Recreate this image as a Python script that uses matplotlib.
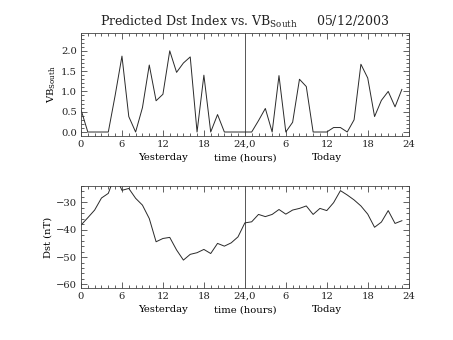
import numpy as np
import matplotlib
matplotlib.use("Agg")
import matplotlib.pyplot as plt
from matplotlib.ticker import MultipleLocator, FormatStrFormatter

plt.rcParams['font.family'] = ['DejaVu Serif']
plt.rcParams['mathtext.fontset'] = 'dejavuserif'

hours = list(range(48))
vb_yesterday = [0.55, 0, 0, 0, 0, 0.9, 1.87, 0.38, 0, 0.6, 1.65, 0.77, 0.93, 2.0,
                1.47, 1.7, 1.85, 0, 1.4, 0, 0.43, 0, 0, 0]
vb_today = [0, 0, 0.28, 0.58, 0, 1.39, 0, 0.24, 1.3, 1.12, 0, 0, 0, 0.11, 0.11, 0,
            0.3, 1.67, 1.33, 0.38, 0.78, 1.0, 0.62, 1.05]
dst_yesterday = [-38.3, -35.6, -32.8, -28.4, -26.7, -20.0, -25.6, -24.9, -28.5, -31.0,
                 -35.9, -44.4, -43.2, -42.8, -47.4, -51.1, -49.0, -48.4, -47.2, -48.7,
                 -45.0, -46.0, -44.8, -42.6]
dst_today = [-37.5, -37.1, -34.4, -35.2, -34.4, -32.6, -34.3, -32.8, -32.2, -31.3,
             -34.4, -32.2, -33.0, -30.1, -25.7, -27.3, -29.1, -31.3, -34.3, -39.1,
             -37.2, -33.0, -37.7, -36.7]
xtick_pos = [0, 6, 12, 18, 24, 30, 36, 42, 48]
xtick_labels = ['0', '6', '12', '18', '24,0', '6', '12', '18', '24']

vb = vb_yesterday + vb_today
dst = dst_yesterday + dst_today

fig = plt.figure(figsize=(4.53, 3.4), dpi=100)
ax1 = fig.add_axes([0.1788, 0.601, 0.7234, 0.302])
ax2 = fig.add_axes([0.1788, 0.153, 0.7234, 0.300])

lc = '#2a2a2a'
fs = 7.2
for ax in (ax1, ax2):
    ax.set_xlim(0, 48)
    ax.axvline(24, color='#555555', lw=0.7)
    ax.set_xticks(xtick_pos)
    ax.set_xticklabels(xtick_labels)
    ax.xaxis.set_minor_locator(MultipleLocator(1))
    ax.tick_params(which='both', direction='in', top=True, right=True,
                   labelsize=fs, colors='#222222', width=0.5)
    ax.tick_params(which='major', length=4, pad=3)
    ax.tick_params(which='minor', length=2)
    for s in ax.spines.values():
        s.set_linewidth(0.6)
        s.set_color('#444444')
    ax.text(12, -0.215, 'Yesterday', transform=ax.get_xaxis_transform(),
            ha='center', va='center', fontsize=fs)
    ax.text(24, -0.215, 'time (hours)', transform=ax.get_xaxis_transform(),
            ha='center', va='center', fontsize=fs)
    ax.text(36, -0.215, 'Today', transform=ax.get_xaxis_transform(),
            ha='center', va='center', fontsize=fs)

ax1.plot(hours, vb, color=lc, lw=0.7)
ax1.set_ylim(-0.09, 2.44)
ax1.yaxis.set_major_locator(MultipleLocator(0.5))
ax1.yaxis.set_minor_locator(MultipleLocator(0.1))
ax1.yaxis.set_major_formatter(FormatStrFormatter('%.1f'))
ax1.set_ylabel(r'VB$_{\mathrm{South}}$', fontsize=fs, labelpad=2)
ax1.set_title(r'Predicted Dst Index vs. VB$_{\mathrm{South}}$     05/12/2003',
              fontsize=9, pad=5, color='#222222')

ax2.plot(hours, dst, color=lc, lw=0.7)
ax2.set_ylim(-61.3, -24.0)
ax2.yaxis.set_major_locator(MultipleLocator(10))
ax2.yaxis.set_minor_locator(MultipleLocator(2))
ax2.set_ylabel('Dst (nT)', fontsize=fs, labelpad=2)

fig.savefig('out.png', dpi=100)
